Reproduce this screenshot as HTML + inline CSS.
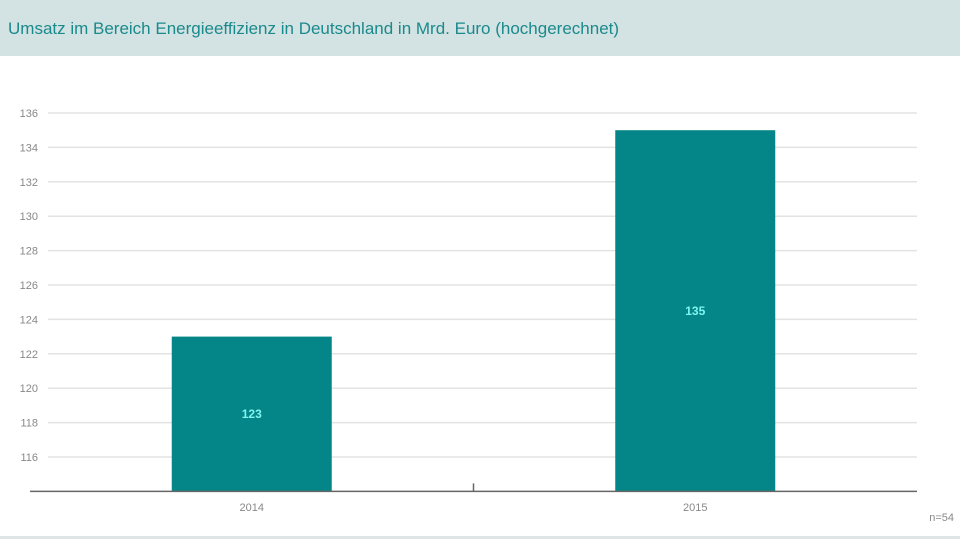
<!DOCTYPE html>
<html><head><meta charset="utf-8"><style>
body{margin:0;width:960px;height:540px;background:#fff;overflow:hidden;font-family:"Liberation Sans",sans-serif}
#hdr{position:absolute;left:0;top:0;width:960px;height:56px;background:#d3e2e3}
#title{position:absolute;left:8px;top:19px;font-size:17px;color:#1a8a8c;white-space:nowrap}
</style></head><body>
<div id="hdr"><div id="title">Umsatz im Bereich Energieeffizienz in Deutschland in Mrd. Euro (hochgerechnet)</div></div>
<svg id="chart" width="960" height="540" style="position:absolute;left:0;top:0">
<line x1="0" y1="537.5" x2="960" y2="537.5" stroke="#dfe5e6" stroke-width="3"/>
<text x="954" y="521" text-anchor="end" font-size="11" fill="#888">n=54</text>
</svg>
<script>
const categories=["2014","2015"];
const values=[123,135];
const ticks=[116,118,120,122,124,126,128,130,132,134,136];
const svg=document.getElementById('chart');
const NS='http://www.w3.org/2000/svg';
const yMin=114,yMax=136,y0=491.4,y1=113;
function y(v){return y0+(v-yMin)*(y1-y0)/(yMax-yMin);}
const xl=30,xr=917,band=(xr-xl)/categories.length,bw=160;
function xc(i){return xl+band*(i+0.5);}
function mk(t,a){const e=document.createElementNS(NS,t);for(const k in a)e.setAttribute(k,a[k]);svg.appendChild(e);return e;}
ticks.forEach(t=>{
 const l=mk('line',{x1:48,x2:917,y1:y(t),y2:y(t),stroke:'#e3e3e3','stroke-width':1.5});
 
 
 const tx=mk('text',{x:38,y:y(t)+4,'text-anchor':'end','font-size':11,fill:'#888'});
 tx.textContent=t;
 
 
});
categories.forEach((c,i)=>{
 const r=mk('rect',{x:xc(i)-bw/2,y:y(values[i]),width:bw,height:y(yMin)-y(values[i]),fill:'#048587'});
 
 
 const v=mk('text',{x:xc(i),y:(y(values[i])+y(yMin))/2+4,'text-anchor':'middle','font-size':12,'font-weight':'bold',fill:'#7ff5f0'});
 v.textContent=values[i];
 
 
 const lb=mk('text',{x:xc(i),y:511,'text-anchor':'middle','font-size':11,fill:'#888'});
 lb.textContent=c;
 
 
});
const ax=mk('line',{x1:xl,x2:xr,y1:y(yMin),y2:y(yMin),stroke:'#666','stroke-width':1.5});


const tk=mk('line',{x1:xl+band,x2:xl+band,y1:y(yMin)-8,y2:y(yMin),stroke:'#666','stroke-width':1.5});


</script>
</body></html>
